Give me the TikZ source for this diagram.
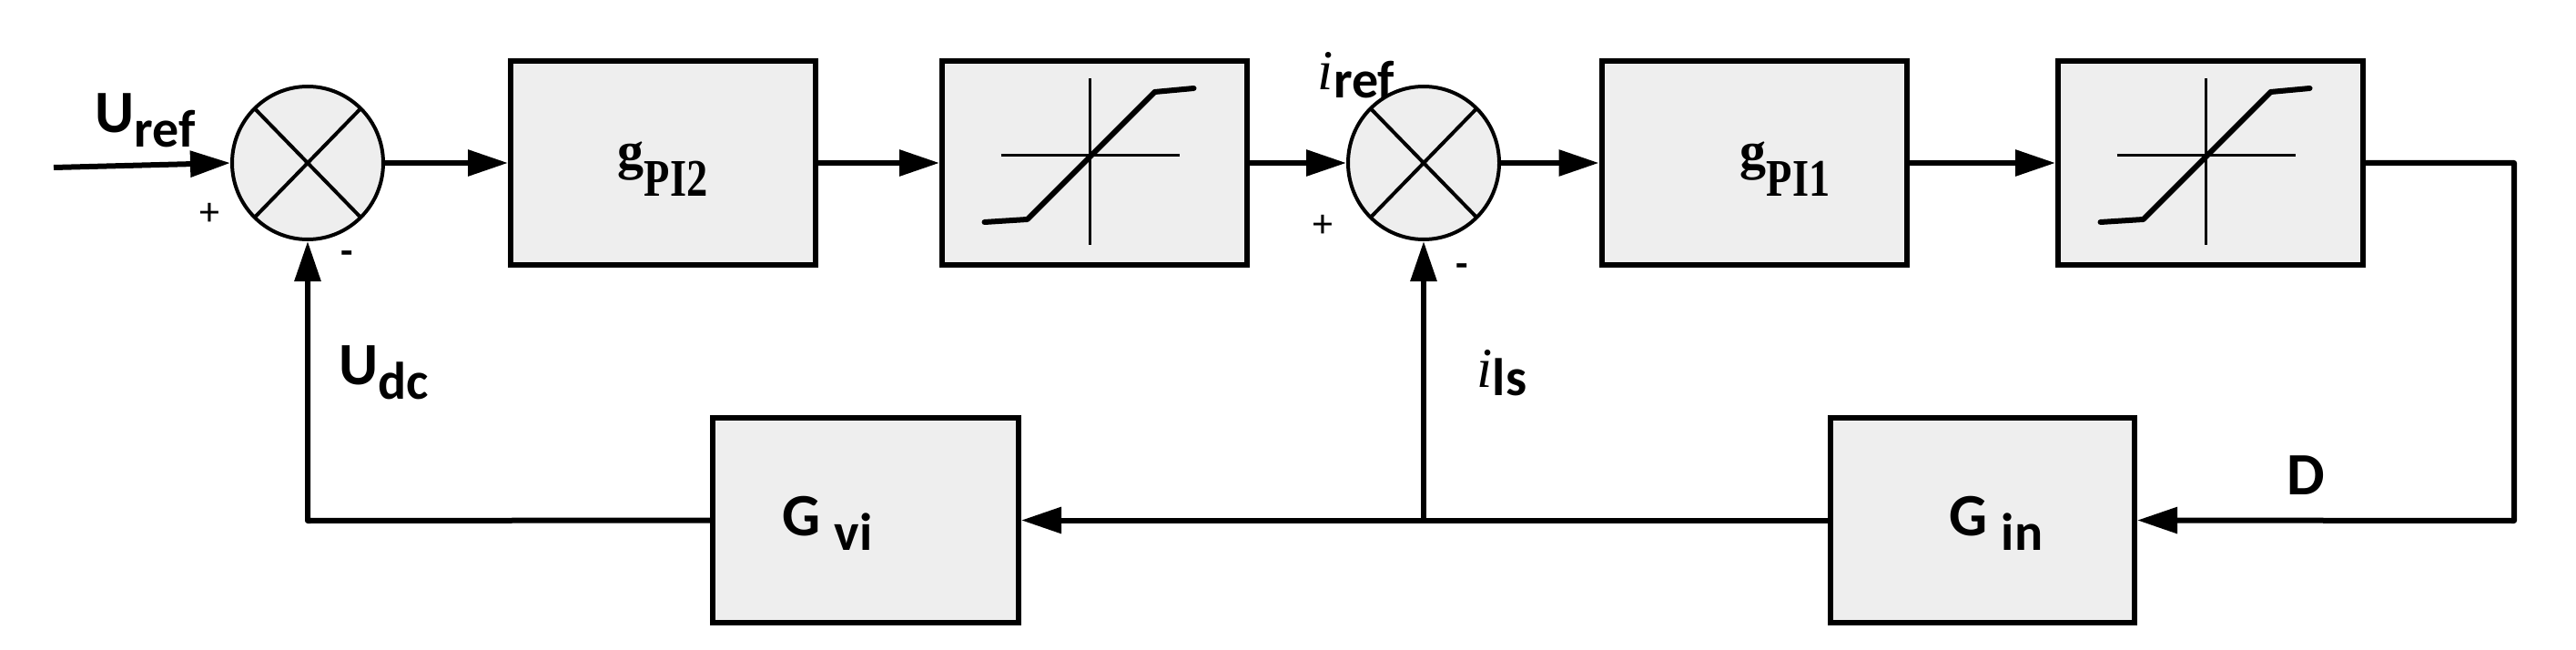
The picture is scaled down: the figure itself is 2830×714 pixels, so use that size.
\documentclass[tikz,border=0pt]{standalone}
\usepackage{fontspec}
\setmainfont{Carlito}
\newfontfamily\serb{Liberation Serif}
\usetikzlibrary{shapes.geometric,arrows.meta}
\newcommand{\bigf}{\fontsize{66}{68}\selectfont\bfseries}
\newcommand{\subf}{\fontsize{58}{60}\selectfont\bfseries}
\newcommand{\Lab}[2]{{\bigf #1\raisebox{-16pt}{\subf #2}}}
\newcommand{\GPI}[1]{{\serb\bfseries\fontsize{58}{60}\selectfont g\raisebox{-30pt}{\scalebox{0.8}[1]{#1}}}}
\newcommand{\Ilab}[1]{{\serb\itshape\fontsize{62}{64}\selectfont i}\raisebox{-9pt}{\subf #1}}
\begin{document}
\begin{tikzpicture}[x=1pt,y=-1pt,
  blk/.style={draw,line width=6pt,fill=gray!13,minimum width=335pt,minimum height=224pt,inner sep=0pt,anchor=center},
  sum/.style={draw,ellipse,line width=4pt,fill=gray!13,minimum width=166pt,minimum height=168pt,inner sep=0pt},
  con/.style={line width=6pt},
  arr/.style={con,-{Triangle[length=44pt,width=28pt]}},
  sat/.style={line width=6pt,line cap=round,line join=round}]
\useasboundingbox (0,0) rectangle (2830,714);
\node[sum] (s1) at (338,179) {};
\node[sum] (s2) at (1564,179) {};
\node[blk] (g2) at (728.5,179) {};
\node[blk] (l1) at (1202.5,179) {};
\node[blk] (g1) at (1927,179) {};
\node[blk] (l2) at (2428.5,179) {};
\node[blk,minimum width=336pt,minimum height=225pt] (gv) at (951,571.5) {};
\node[blk,minimum width=334pt,minimum height=225pt] (gi) at (2178,571.5) {};
\foreach \s in {s1,s2}{
  \begin{scope}[shift={(\s.center)}]
  \draw[line width=4pt] (-57,-58.5) -- (57,58.5) (57,-58.5) -- (-57,58.5);
  \end{scope}}
\foreach \s in {l1,l2}{
  \begin{scope}[shift={(\s.center)}]
  \draw[line width=3pt] (-103,-8.6) -- (93,-8.6) (-5,-93) -- (-5,90);
  \draw[sat] (-121,65) -- (-74,62) -- (66,-78) -- (109,-82);
  \end{scope}}
\coordinate (in) at (59,184);
\coordinate (c1) at (2762,179);
\coordinate (c2) at (2762,572);
\coordinate (c3) at (338,572);
\coordinate (j) at (1564,572);
\draw[arr] (in) -- (s1.west);
\draw[arr] (s1.east) -- (g2.west);
\draw[arr] (g2.east) -- (l1.west);
\draw[arr] (l1.east) -- (s2.west);
\draw[arr] (s2.east) -- (g1.west);
\draw[arr] (g1.east) -- (l2.west);
\draw[arr,line join=round] (l2.east) -- (c1) -- (c2) -- (gi.east);
\draw[arr] (gi.west) -- (gv.east);
\draw[arr] (j) -- (s2.south);
\draw[arr,line join=round] (gv.west) -- (c3) -- (s1.south);
\node (t1) at (728,186) {\GPI{PI2}};
\node (t2) at (1961,186) {\GPI{PI1}};
\node (t3) at (160,132) {\Lab{U}{ref}};
\node (t4) at (422,409) {\Lab{U}{dc}};
\node (t5) at (909,575) {\Lab{G }{vi}};
\node (t6) at (2193,575) {\Lab{G }{in}};
\node (t7) at (2533,522) {\bigf D};
\node (t8) at (1490,83) {\Ilab{ref}};
\node (t9) at (1650,410) {\Ilab{ls}};
\node (p1) at (230,235) {\fontsize{44}{44}\selectfont +};
\node (m1) at (381,283) {\fontsize{44}{44}\selectfont\bfseries -};
\node (p2) at (1453,248) {\fontsize{44}{44}\selectfont +};
\node (m2) at (1606,297) {\fontsize{44}{44}\selectfont\bfseries -};
\end{tikzpicture}
\end{document}
